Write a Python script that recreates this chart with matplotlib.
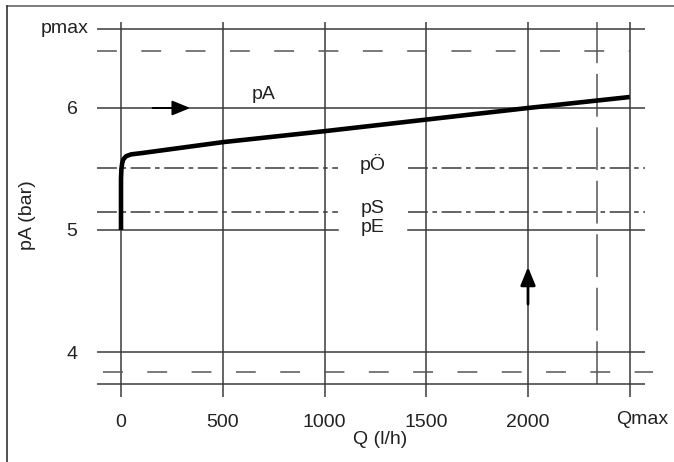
import numpy as np
import matplotlib.pyplot as plt
from matplotlib.lines import Line2D

plt.rcParams['font.family'] = ['Liberation Sans', 'DejaVu Sans']

# flow grid (l/h) and its labels
q_ticks = [0, 500, 1000, 1500, 2000]
q_max = 2500
q_limit = 2340          # dashed vertical limit

# pressure levels (bar)
p_ticks = [4, 5, 6]
p_max = 6.65
p_upper_dash = 6.47
p_oeffnen = 5.51        # pÖ
p_schliessen = 5.15     # pS
p_ein = 5.0             # pE
p_lower_dash = 3.84
p_bottom = 3.74

# characteristic curve pA(Q)
curve_q = [0, 0, 2, 6, 12, 25, 50, 100, 500, 1000, 1500, 2000, 2500]
curve_p = [5.0, 5.42, 5.50, 5.55, 5.58, 5.605, 5.62, 5.63, 5.72, 5.81, 5.905, 6.0, 6.09]

# pixel -> data mapping: Q=0 at x=121px, 0.2035 px per l/h; p=6 at y=108px, 122 px per bar
W, H = 674, 462
fig = plt.figure(figsize=(W / 100, H / 100), dpi=100)
x0, x1 = 97, 645
y0, y1 = 22, 397
ax = fig.add_axes([x0 / W, 1 - y1 / H, (x1 - x0) / W, (y1 - y0) / H])
qlo, qhi = (x0 - 121) / 0.2035, (x1 - 121) / 0.2035
phi, plo = 6 + (108 - y0) / 122, 6 - (y1 - 108) / 122
ax.set_xlim(qlo, qhi)
ax.set_ylim(plo, phi)
for s in ax.spines.values():
    s.set_visible(False)

grid_c = '#3a3a3a'
dash_c = '#555555'

# vertical grid lines
for q in q_ticks + [q_max]:
    ax.axvline(q, color=grid_c, lw=1.1)
ax.plot([q_limit, q_limit], [p_bottom, phi], color=dash_c, lw=1.1, dashes=(28, 7))

# horizontal solid lines
for p in [p_max, 6, 4, p_bottom]:
    ax.axhline(p, color=grid_c, lw=1.1)

# dashed lines
ax.plot([qlo, q_max], [p_upper_dash] * 2, color=dash_c, lw=1.1, dashes=(13, 16))
ax.plot([qlo + 30, qhi + 40], [p_lower_dash] * 2, color=dash_c, lw=1.1, dashes=(13, 16),
        clip_on=False)

# lines interrupted by labels
gap_lo, gap_hi = 1066, 1410
for p, style in [(p_oeffnen, (13, 3, 3, 3)), (p_schliessen, (13, 3, 3, 3)), (p_ein, None)]:
    for a, b in [(qlo, gap_lo), (gap_hi, qhi)]:
        if style:
            ax.plot([a, b], [p, p], color=grid_c, lw=1.1, dashes=style)
        else:
            ax.plot([a, b], [p, p], color=grid_c, lw=1.1)

# characteristic curve
ax.plot(curve_q, curve_p, color='black', lw=3.3, solid_capstyle='butt', solid_joinstyle='round')

# arrows
ax.annotate('', xy=(354, 6), xytext=(142, 6),
            arrowprops=dict(arrowstyle='-|>,head_length=1.1,head_width=0.45', color='black', lw=1.4))
ax.annotate('', xy=(2000, 4.72), xytext=(2000, 4.37),
            arrowprops=dict(arrowstyle='-|>,head_length=1.1,head_width=0.45', color='black', lw=2))

# ticks
ax.set_xticks(q_ticks, [str(q) for q in q_ticks])
ax.set_yticks(p_ticks, [str(p) for p in p_ticks])
ax.tick_params(length=0, labelsize=14, colors='#222222')
ax.tick_params(axis='x', pad=12)
ax.tick_params(axis='y', pad=14)
ax.text(2560, 6 - (419 - 108) / 122, 'Qmax', fontsize=14, color='#222222', ha='center',
        va='center', clip_on=False)
ax.text(qlo - 40, p_max, 'pmax', fontsize=14, color='#222222', ha='right', va='center', clip_on=False)

# curve labels
ax.text(700, 6.11, 'pA', fontsize=14, color='#222222', ha='center', va='center')
ax.text(1238, p_oeffnen + 0.03, 'pÖ', fontsize=14, color='#222222', ha='center', va='center')
ax.text(1238, p_schliessen + 0.03, 'pS', fontsize=14, color='#222222', ha='center', va='center')
ax.text(1238, p_ein + 0.02, 'pE', fontsize=14, color='#222222', ha='center', va='center')

fig.text(380 / W, 1 - 440 / H, 'Q (l/h)', fontsize=14, color='#222222', ha='center', va='center')
fig.text(28 / W, 1 - 215 / H, 'pA (bar)', fontsize=14, color='#222222', ha='center', va='center',
         rotation=90)

# outer frame
fig.add_artist(Line2D([7 / W, 1], [1 - 6 / H, 1 - 6 / H], color='#666666', lw=1.2))
fig.add_artist(Line2D([7 / W, 7 / W], [1 - 6 / H, 0], color='#333333', lw=1.2))

fig.savefig('out.png', dpi=100)
